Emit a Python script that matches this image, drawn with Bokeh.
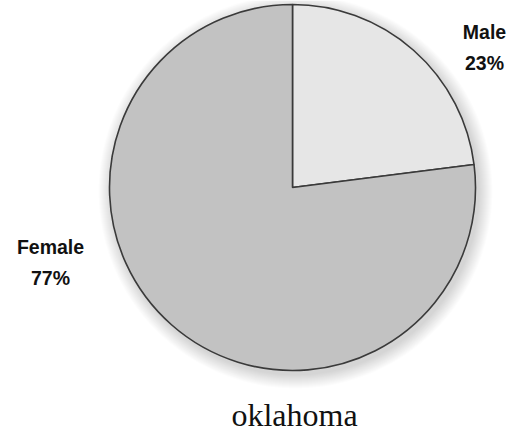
import numpy as np
from bokeh.plotting import figure
from bokeh.models import Range1d, ColumnDataSource
from bokeh.core.properties import value
from bokeh.embed import file_html
from bokeh.resources import INLINE

categories = ["Male", "Female"]
shares = [23, 77]
colors = ["#e6e6e6", "#c2c2c2"]
title_text = "oklahoma"

W, H = 514, 434
p = figure(width=W, height=H, output_backend="svg", toolbar_location=None,
           x_range=Range1d(0, W), y_range=Range1d(0, H), min_border=0)
p.axis.visible = False
p.grid.visible = False
p.outline_line_color = None
p.background_fill_color = "white"
p.border_fill_color = "white"

cx, cy, r = 292, H - 187, 183

# soft drop shadow
for i in range(14, 0, -1):
    p.circle(x=[cx + 3], y=[cy - 4], radius=r + i, fill_color="black",
             fill_alpha=0.012, line_color=None)

vals = np.array(shares, dtype=float)
frac = vals / vals.sum()
cum = np.concatenate([[0], np.cumsum(frac)])
start = np.pi / 2 - 2 * np.pi * cum[:-1]
end = np.pi / 2 - 2 * np.pi * cum[1:]
src = ColumnDataSource(dict(start=start, end=end, color=colors, cat=categories))
p.wedge(x=cx, y=cy, radius=r, start_angle="start", end_angle="end",
        direction="clock", fill_color="color", line_color="#3a3a3a",
        line_width=1.6, source=src)

labels = [f"{c}\n{v}%" for c, v in zip(categories, shares)]
lsrc = ColumnDataSource(dict(x=[484, 50], y=[H - 47, H - 262], t=labels))
p.text(x="x", y="y", text="t", source=lsrc, text_align="center",
       text_baseline="middle", text_font=value("Liberation Sans"),
       text_font_style="bold", text_font_size="19.5px", text_line_height=1.45,
       text_color="#111111")

p.text(x=[294], y=[H - 414], text=[title_text], text_align="center",
       text_baseline="alphabetic", text_font=value("Liberation Serif"),
       text_font_size="32px", text_color="#111111")

open("out.html", "w").write(file_html(p, INLINE))
